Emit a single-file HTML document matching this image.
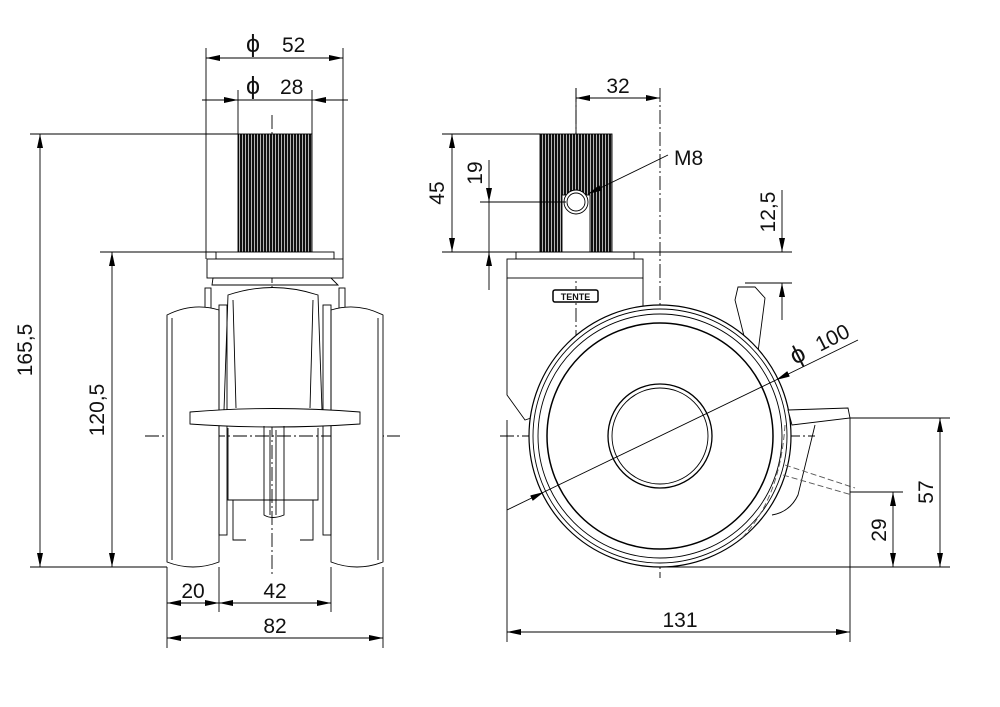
<!DOCTYPE html>
<html><head><meta charset="utf-8"><style>
html,body{margin:0;padding:0;background:#fff}
svg{display:block}
text{font-family:"Liberation Sans Narrow","Liberation Sans",sans-serif;font-size:21px;fill:#111}
</style></head><body>
<svg width="1000" height="707" viewBox="0 0 1000 707" xmlns="http://www.w3.org/2000/svg">
<defs>
<marker id="a" viewBox="0 0 14 6" refX="14" refY="3" markerWidth="14" markerHeight="6" markerUnits="userSpaceOnUse" orient="auto-start-reverse"><path d="M0,0L14,3L0,6z" fill="#000"/></marker>
<pattern id="rib" width="3" height="10" patternUnits="userSpaceOnUse"><rect width="3" height="10" fill="#ddd"/><rect width="2.2" height="10" fill="#111"/></pattern>
</defs>
<g stroke="#000" stroke-width="0.9" fill="none">
<!-- ===== LEFT VIEW ===== -->
<line x1="272" y1="115" x2="272" y2="575" stroke-dasharray="14,3,2,3"/>
<line x1="145" y1="436" x2="400" y2="436" stroke-dasharray="14,3,2,3"/>
<rect x="238" y="134" width="74" height="118" fill="url(#rib)" stroke="#000"/>
<rect x="216" y="252" width="118" height="7" fill="#fff"/>
<rect x="207" y="259" width="136" height="19" fill="#fff"/>
<path d="M213,278 L331,278 L338,285 L212,285z"/>
<rect x="205" y="288" width="6" height="20"/><rect x="339" y="288" width="6" height="20"/>
<path d="M167,315 Q193,302 219,310 L219,562 Q193,572 167,562z" fill="#fff"/>
<path d="M331,310 Q357,302 383,315 L383,562 Q357,572 331,562z" fill="#fff"/>
<line x1="172" y1="318" x2="172" y2="560"/><line x1="378" y1="318" x2="378" y2="560"/>
<path d="M228,295 Q272,280 318,295 L322,410 L224,410z" fill="#fff"/>
<path d="M233,300 L236,408 M313,300 L310,408"/>
<rect x="219" y="305" width="8" height="230"/><rect x="323" y="305" width="8" height="230"/>
<path d="M190,412 Q272,405 360,412 L360,424 Q272,430 190,424z" fill="#fff"/>
<path d="M228,428 L228,500 L318,500 L318,428"/>
<path d="M264,426 L264,515 Q272,520 284,515 L284,426"/>
<path d="M233,500 L233,540 L246,540 M313,500 L313,540 L300,540"/>
<line x1="270" y1="430" x2="270" y2="515"/><line x1="276" y1="430" x2="276" y2="515"/>
<line x1="30" y1="134" x2="238" y2="134"/>
<line x1="100" y1="252" x2="216" y2="252"/>
<line x1="30" y1="567" x2="167" y2="567"/>
<line x1="40" y1="134" x2="40" y2="567" marker-start="url(#a)" marker-end="url(#a)"/>
<line x1="112" y1="252" x2="112" y2="567" marker-start="url(#a)" marker-end="url(#a)"/>
<line x1="206" y1="48" x2="206" y2="259"/><line x1="343" y1="48" x2="343" y2="259"/>
<line x1="206" y1="58" x2="343" y2="58" marker-start="url(#a)" marker-end="url(#a)"/>
<line x1="238" y1="90" x2="238" y2="134"/><line x1="312" y1="90" x2="312" y2="134"/>
<line x1="202" y1="100" x2="238" y2="100" marker-end="url(#a)"/>
<line x1="348" y1="100" x2="312" y2="100" marker-end="url(#a)"/>
<line x1="238" y1="100" x2="312" y2="100"/>
<line x1="167" y1="567" x2="167" y2="648"/><line x1="383" y1="567" x2="383" y2="648"/>
<line x1="219" y1="567" x2="219" y2="612"/><line x1="331" y1="567" x2="331" y2="612"/>
<line x1="167" y1="603" x2="219" y2="603" marker-start="url(#a)" marker-end="url(#a)"/>
<line x1="219" y1="603" x2="331" y2="603" marker-start="url(#a)" marker-end="url(#a)"/>
<line x1="167" y1="638" x2="383" y2="638" marker-start="url(#a)" marker-end="url(#a)"/>

<!-- ===== RIGHT VIEW ===== -->
<line x1="660" y1="88" x2="660" y2="578" stroke-dasharray="14,3,2,3"/>
<line x1="500" y1="436" x2="815" y2="436" stroke-dasharray="14,3,2,3"/>
<line x1="576" y1="88" x2="576" y2="380" stroke-dasharray="14,3,2,3"/>
<rect x="540" y="134" width="72" height="118" fill="url(#rib)"/>
<rect x="562" y="195" width="28" height="57" fill="#fff"/>
<circle cx="576" cy="202" r="12" fill="#fff"/><circle cx="576" cy="202" r="9"/>
<rect x="516" y="252" width="118" height="7" fill="#fff"/>
<rect x="507" y="259" width="136" height="19" fill="#fff"/>
<path d="M507,278 L507,395 L525,420 L540,415 M643,278 L643,310"/>
<rect x="553" y="290" width="45" height="12" rx="2" fill="#fff" stroke-width="1.5"/>
<text x="575.5" y="300" text-anchor="middle" style="font-size:9px;font-weight:bold" stroke="none">TENTE</text>
<path d="M738,287 L755,287 L765,298 L758,352 L745,340 L735,300z" fill="#fff"/>
<circle cx="660" cy="436" r="131" fill="#fff" stroke-width="1.2"/>
<circle cx="660" cy="436" r="127"/><circle cx="660" cy="436" r="122"/>
<circle cx="660" cy="436" r="113" stroke-width="1.5"/>
<circle cx="660" cy="436" r="52" stroke-width="1.3"/><circle cx="660" cy="436" r="48"/>
<path d="M788,410 L848,408 L850,418 L792,425z" fill="#fff"/>
<path d="M815,425 L798,495 Q790,512 772,515" />
<path d="M785,465 L855,488 M783,475 L852,495" stroke-dasharray="6,3" stroke="#555"/>
<path d="M785,425 Q780,500 740,540" stroke-dasharray="6,3" stroke="#555"/>
<line x1="576" y1="88" x2="576" y2="134"/>
<line x1="576" y1="98" x2="660" y2="98" marker-start="url(#a)" marker-end="url(#a)"/>
<line x1="442" y1="134" x2="540" y2="134"/>
<line x1="442" y1="252" x2="660" y2="252"/>
<line x1="480" y1="202" x2="566" y2="202"/>
<line x1="452" y1="134" x2="452" y2="252" marker-start="url(#a)" marker-end="url(#a)"/>
<line x1="489" y1="160" x2="489" y2="202" marker-end="url(#a)"/>
<line x1="489" y1="290" x2="489" y2="252" marker-end="url(#a)"/>
<line x1="489" y1="202" x2="489" y2="252"/>
<line x1="668" y1="155" x2="588" y2="194" marker-end="url(#a)"/>
<line x1="660" y1="252" x2="792" y2="252"/>
<line x1="745" y1="283" x2="792" y2="283"/>
<line x1="782" y1="190" x2="782" y2="252" marker-end="url(#a)"/>
<line x1="782" y1="320" x2="782" y2="283" marker-end="url(#a)"/>
<line x1="858" y1="340" x2="776" y2="380" marker-end="url(#a)"/>
<line x1="776" y1="380" x2="544" y2="492"/>
<line x1="507" y1="510" x2="544" y2="492" marker-end="url(#a)"/>
<line x1="507" y1="420" x2="507" y2="642"/>
<line x1="850" y1="418" x2="850" y2="642"/>
<line x1="850" y1="418" x2="950" y2="418"/>
<line x1="850" y1="492" x2="903" y2="492"/>
<line x1="660" y1="567" x2="950" y2="567"/>
<line x1="940" y1="418" x2="940" y2="567" marker-start="url(#a)" marker-end="url(#a)"/>
<line x1="893" y1="492" x2="893" y2="567" marker-start="url(#a)" marker-end="url(#a)"/>
<line x1="507" y1="632" x2="850" y2="632" marker-start="url(#a)" marker-end="url(#a)"/>
</g>
<g stroke="none">
<text x="246" y="52" style="font-size:25px">ϕ</text><text x="282" y="52">52</text>
<text x="246" y="94" style="font-size:25px">ϕ</text><text x="280" y="94">28</text>
<text x="32" y="350" transform="rotate(-90 32 350)" text-anchor="middle">165,5</text>
<text x="104" y="410" transform="rotate(-90 104 410)" text-anchor="middle">120,5</text>
<text x="193" y="598" text-anchor="middle">20</text>
<text x="275" y="598" text-anchor="middle">42</text>
<text x="275" y="633" text-anchor="middle">82</text>
<text x="618" y="93" text-anchor="middle">32</text>
<text x="444" y="193" transform="rotate(-90 444 193)" text-anchor="middle">45</text>
<text x="482" y="173" transform="rotate(-90 482 173)" text-anchor="middle">19</text>
<text x="674" y="165">M8</text>
<text x="775" y="212" transform="rotate(-90 775 212)" text-anchor="middle">12,5</text>
<text x="795" y="365" transform="rotate(-27 795 365)" style="font-size:25px">ϕ</text>
<text x="820" y="352" transform="rotate(-27 820 352)">100</text>
<text x="933" y="492" transform="rotate(-90 933 492)" text-anchor="middle">57</text>
<text x="886" y="530" transform="rotate(-90 886 530)" text-anchor="middle">29</text>
<text x="680" y="627" text-anchor="middle">131</text>
</g>
</svg>
</body></html>
